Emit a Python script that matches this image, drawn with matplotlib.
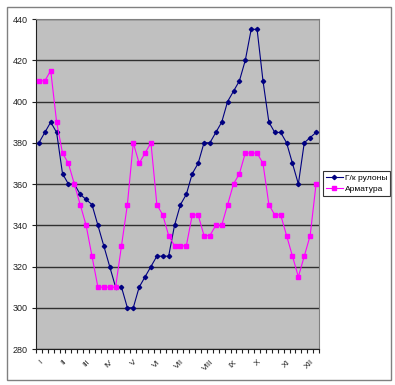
import matplotlib.pyplot as plt
from matplotlib.patches import Rectangle

plt.rcParams['font.family'] = ['Liberation Sans', 'DejaVu Sans']

# weekly values, 4 weeks per month
coils = [380, 385, 390, 385, 365, 360, 360, 355, 352.5, 350, 340, 330,
         320, 310, 310, 300, 300, 310, 315, 320, 325, 325, 325, 340,
         350, 355, 365, 370, 380, 380, 385, 390, 400, 405, 410, 420,
         435, 435, 410, 390, 385, 385, 380, 370, 360, 380, 382.5, 385]
rebar = [410, 410, 415, 390, 375, 370, 360, 350, 340, 325, 310, 310,
         310, 310, 330, 350, 380, 370, 375, 380, 350, 345, 335, 330,
         330, 330, 345, 345, 335, 335, 340, 340, 350, 360, 365, 375,
         375, 375, 370, 350, 345, 345, 335, 325, 315, 325, 335, 360]
months = ['I', 'II', 'III', 'IV', 'V', 'VI', 'VII', 'VIII', 'IX', 'X', 'XI', 'XII']
month_pos = [0, 4, 8, 12, 16, 20, 24, 29, 33, 37, 42, 46]

fig = plt.figure(figsize=(3.95, 3.85), dpi=100)
fig.patches.append(Rectangle((0.0177, 0.013), 0.972, 0.969, transform=fig.transFigure,
                             fill=False, edgecolor='#808080', linewidth=1))

ax = fig.add_axes([0.0911, 0.0935, 0.7165, 0.8571])
ax.set_facecolor('#C0C0C0')
x = list(range(len(coils)))

ax.plot(x, coils, color='#000080', marker='D', markersize=2.2, linewidth=0.8,
        label='Г/к рулоны', zorder=3)
ax.plot(x, rebar, color='#FF00FF', marker='s', markersize=2.6, linewidth=0.8,
        label='Арматура', zorder=4)

ax.set_xlim(-0.5, len(coils) - 0.5)
ax.set_ylim(280, 440)
ax.set_yticks(range(280, 441, 20))
ax.yaxis.grid(True, color='#303030', linewidth=1)
ax.set_axisbelow(True)

ax.set_xticks([i - 0.5 for i in range(len(coils) + 1)])
ax.set_xticklabels([])
ax.set_xticks(month_pos, minor=True)
ax.set_xticklabels(months, minor=True, rotation=45, ha='right', rotation_mode='anchor')
ax.tick_params(axis='x', which='major', length=3, width=0.8, direction='out', color='#202020')
ax.tick_params(axis='x', which='minor', length=0, pad=7, labelsize=6, labelcolor='#202020')
ax.tick_params(axis='y', length=3, width=0.8, direction='out', pad=3, labelsize=6.5,
               labelcolor='#202020', color='#202020')

for s in ['top', 'right']:
    ax.spines[s].set_color('#808080')
for s in ['left', 'bottom']:
    ax.spines[s].set_color('#202020')
for s in ax.spines.values():
    s.set_linewidth(0.8)

leg = ax.legend(loc='upper left', bbox_to_anchor=(1.014, 0.539), fontsize=6,
                frameon=True, fancybox=False, edgecolor='black', handlelength=2,
                borderpad=0.35, labelspacing=0.35, handletextpad=0.3, borderaxespad=0)
leg.get_frame().set_linewidth(0.8)

plt.savefig('out.png', dpi=100)
